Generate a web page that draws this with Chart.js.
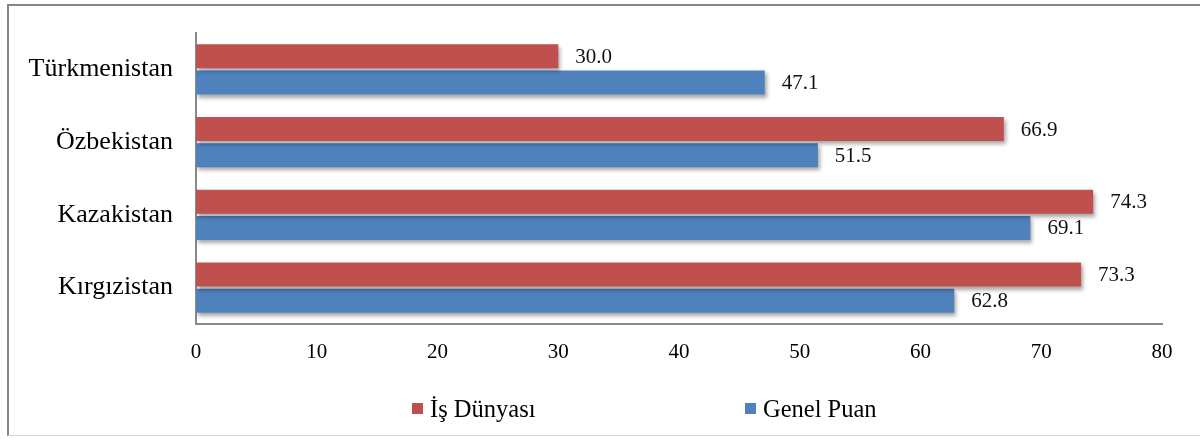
<!DOCTYPE html>
<html>
<head>
<meta charset="utf-8">
<script src="https://cdn.jsdelivr.net/npm/chart.js@4/dist/chart.umd.min.js"></script>
<style>
    body { margin: 0; background: #fff; }
    #wrap { position: relative; width: 1200px; height: 439px; overflow: hidden; }
    #frame {
        position: absolute; left: 7px; top: 4px; width: 1210px; height: 432px;
        border-left: 2px solid #868686; border-top: 2px solid #868686;
        border-bottom: 1px solid #d4d4d4; box-sizing: border-box;
    }
    #chart { position: absolute; left: 0; top: 0; }
    .legend-item {
        position: absolute; top: 393px; font-family: "Liberation Serif", serif;
        font-size: 24.5px; color: #000; line-height: 32px; white-space: nowrap;
    }
    .legend-item span {
        display: inline-block; width: 11px; height: 11px; margin-right: 7px;
        vertical-align: 3px;
    }
</style>
</head>
<body>
<div id="wrap">
    <div id="frame"></div>
    <canvas id="chart" width="1200" height="439"></canvas>
    <div class="legend-item" style="left:412px"><span style="background:#C0504D"></span>İş Dünyası</div>
    <div class="legend-item" style="left:745px"><span style="background:#4F81BD"></span>Genel Puan</div>
</div>
<script>
const countries = ['Türkmenistan', 'Özbekistan', 'Kazakistan', 'Kırgızistan'];
const isDunyasi = [30.0, 66.9, 74.3, 73.3];
const genelPuan = [47.1, 51.5, 69.1, 62.8];
const xTicks = [0, 10, 20, 30, 40, 50, 60, 70, 80];

const RED = '#C0504D';
const BLUE = '#4F81BD';
const FONT = '"Liberation Serif", "Times New Roman", serif';

// soft drop shadow under the bars
const barShadow = {
    id: 'barShadow',
    beforeDatasetsDraw(chart) {
        const ctx = chart.ctx;
        ctx.save();
        ctx.shadowColor = 'rgba(0, 0, 0, 0.35)';
        ctx.shadowBlur = 4;
        ctx.shadowOffsetX = 2;
        ctx.shadowOffsetY = 3;
    },
    afterDatasetsDraw(chart) {
        chart.ctx.restore();
    }
};

// value labels to the right of each bar
const valueLabels = {
    id: 'valueLabels',
    afterDraw(chart) {
        const ctx = chart.ctx;
        ctx.save();
        ctx.font = '21px ' + FONT;
        ctx.fillStyle = '#111';
        ctx.textAlign = 'left';
        ctx.textBaseline = 'middle';
        chart.data.datasets.forEach((ds, i) => {
            chart.getDatasetMeta(i).data.forEach((bar, j) => {
                ctx.fillText(ds.data[j].toFixed(1), bar.x + 17, bar.y + 1);
            });
        });
        ctx.restore();
    }
};

new Chart(document.getElementById('chart'), {
    type: 'bar',
    data: {
        labels: countries,
        datasets: [
            { label: 'İş Dünyası', data: isDunyasi, backgroundColor: RED,
              barPercentage: 0.92, categoryPercentage: 0.72 },
            { label: 'Genel Puan', data: genelPuan, backgroundColor: BLUE,
              barPercentage: 0.92, categoryPercentage: 0.72 }
        ]
    },
    options: {
        indexAxis: 'y',
        responsive: false,
        animation: false,
        layout: { padding: { top: 33, right: 38, bottom: 70, left: 0 } },
        plugins: {
            legend: { display: false },
            tooltip: { enabled: false }
        },
        scales: {
            x: {
                min: 0,
                max: 80,
                afterBuildTicks: scale => { scale.ticks = xTicks.map(v => ({ value: v })); },
                afterFit: scale => { scale.height = 45; },
                grid: { display: false, drawTicks: false },
                border: { display: true, color: '#8a8a8a', width: 2 },
                ticks: { padding: 16, color: '#000', font: { family: FONT, size: 21 } }
            },
            y: {
                afterFit: scale => {
                    scale.width = 196;
                    scale.paddingTop = 0;
                    scale.paddingBottom = 0;
                },
                grid: { display: false, drawTicks: false },
                border: { display: true, color: '#8a8a8a', width: 2 },
                ticks: { padding: 23, color: '#000', font: { family: FONT, size: 26 } }
            }
        }
    },
    plugins: [barShadow, valueLabels]
});
</script>
</body>
</html>
